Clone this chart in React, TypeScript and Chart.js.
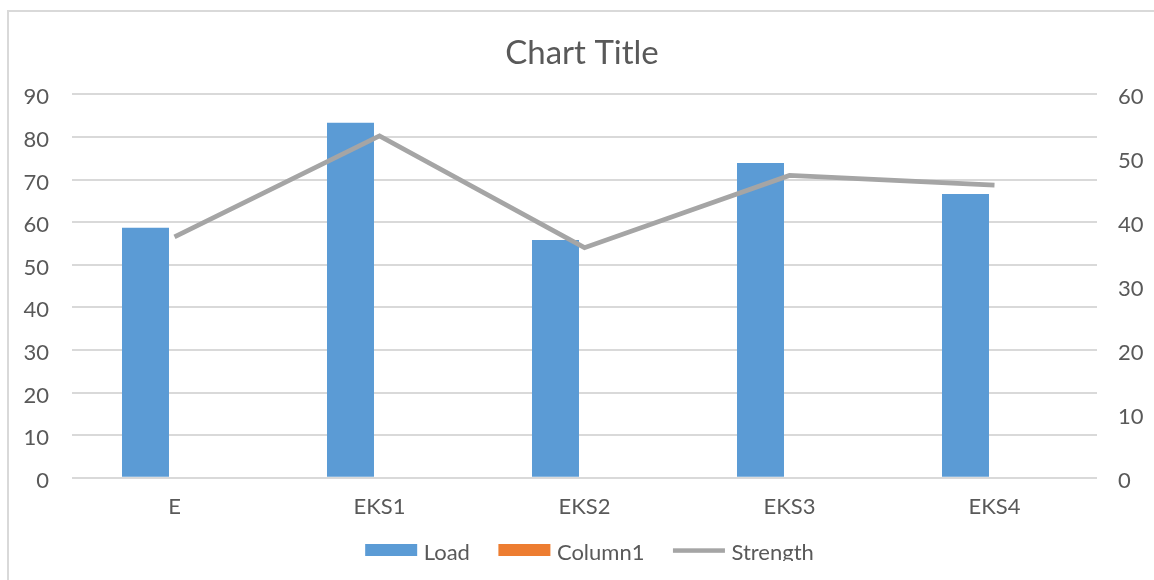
import { useEffect, useRef } from "react";
import { Chart, registerables } from "chart.js";

Chart.register(...registerables);

// ---- data ----
const categories = ["E", "EKS1", "EKS2", "EKS3", "EKS4"];
const loadValues = [58.7, 83.3, 55.8, 73.9, 66.6];
const column1Values: (number | null)[] = [null, null, null, null, null];
const strengthValues = [37.7, 53.5, 36.0, 47.3, 45.8];
const loadAxisRange = [0, 90];
const strengthAxisRange = [0, 60];
const axisStep = 10;
const chartTitle = "Chart Title";

// ---- styles ----
const FONT = "Lato, 'Open Sans', sans-serif";
const TEXT_COLOR = "#595959";
const GRID_COLOR = "#d9d9d9";
const BLUE = "#5b9bd5";
const ORANGE = "#ed7d31";
const GREY = "#a5a5a5";

const titlePlugin = {
  id: "sheetTitle",
  afterDraw(chart: any) {
    const ctx = chart.ctx;
    ctx.save();
    ctx.font = `33px ${FONT}`;
    ctx.fillStyle = TEXT_COLOR;
    ctx.textAlign = "center";
    ctx.textBaseline = "alphabetic";
    ctx.fillText(chartTitle, 582, 64);
    ctx.restore();
  },
};

const legendPlugin = {
  id: "sheetLegend",
  afterDraw(chart: any) {
    const ctx = chart.ctx;
    ctx.save();
    ctx.font = `22px ${FONT}`;
    const boxW = 52;
    const gap = 6.5;
    const spacing = 28.5;
    const items = chart.data.datasets.map((ds: any) => ({
      label: ds.label as string,
      color: (ds.type === "line" ? ds.borderColor : ds.backgroundColor) as string,
      isLine: ds.type === "line",
    }));
    const widths = items.map((it: any) => boxW + gap + ctx.measureText(it.label).width);
    const total = widths.reduce((a: number, b: number) => a + b, 0) + spacing * (items.length - 1);
    let x = 589.5 - total / 2;
    items.forEach((it: any, i: number) => {
      ctx.fillStyle = it.color;
      if (it.isLine) {
        ctx.fillRect(x, 548.3, boxW, 4.5);
      } else {
        ctx.fillRect(x, 544, boxW, 12);
      }
      ctx.fillStyle = TEXT_COLOR;
      ctx.textAlign = "left";
      ctx.textBaseline = "alphabetic";
      ctx.fillText(it.label, x + boxW + gap, 560);
      x += widths[i] + spacing;
    });
    ctx.restore();
  },
};

export default function App() {
  const canvasRef = useRef<HTMLCanvasElement | null>(null);

  useEffect(() => {
    if (!canvasRef.current) return;
    const tickFont = { family: FONT, size: 22 };
    const chart = new Chart(canvasRef.current, {
      type: "bar",
      data: {
        labels: categories,
        datasets: [
          {
            label: "Load",
            data: loadValues,
            backgroundColor: BLUE,
            yAxisID: "y",
            order: 1,
            categoryPercentage: 0.566,
            barPercentage: 0.81,
          },
          {
            label: "Column1",
            data: column1Values,
            backgroundColor: ORANGE,
            yAxisID: "y",
            order: 1,
            categoryPercentage: 0.566,
            barPercentage: 0.81,
          },
          {
            type: "line",
            label: "Strength",
            data: strengthValues,
            borderColor: GREY,
            backgroundColor: GREY,
            borderWidth: 4.7,
            pointRadius: 0,
            tension: 0,
            borderJoinStyle: "miter",
            yAxisID: "y1",
            order: 0,
          } as any,
        ],
      },
      options: {
        animation: false,
        responsive: false,
        maintainAspectRatio: false,
        layout: { padding: { top: 94.3, bottom: 62.3, left: 0, right: 0 } },
        plugins: {
          legend: { display: false },
          title: { display: false },
          tooltip: { enabled: false },
        },
        scales: {
          x: {
            grid: { display: false, drawTicks: false },
            border: { display: false },
            ticks: { color: TEXT_COLOR, font: tickFont, padding: 16, maxRotation: 0 },
            afterFit: (s: any) => {
              s.height = 40;
              s.paddingLeft = 0;
              s.paddingRight = 0;
            },
          },
          y: {
            position: "left",
            min: loadAxisRange[0],
            max: loadAxisRange[1],
            ticks: { stepSize: axisStep, color: TEXT_COLOR, font: tickFont, padding: 23, labelOffset: 3 },
            grid: { color: GRID_COLOR, lineWidth: 2, drawTicks: false },
            border: { display: false },
            afterFit: (s: any) => {
              s.width = 72;
              s.paddingTop = 0;
              s.paddingBottom = 0;
            },
          },
          y1: {
            position: "right",
            min: strengthAxisRange[0],
            max: strengthAxisRange[1],
            ticks: { stepSize: axisStep, color: TEXT_COLOR, font: tickFont, padding: 21, labelOffset: 3 },
            grid: { display: false, drawTicks: false },
            border: { display: false },
            afterFit: (s: any) => {
              s.width = 57;
              s.paddingTop = 0;
              s.paddingBottom = 0;
            },
          },
        },
      } as any,
      plugins: [titlePlugin, legendPlugin],
    });
    return () => chart.destroy();
  }, []);

  return (
    <div
      style={{
        position: "absolute",
        left: 0,
        top: 0,
        width: 1154,
        height: 580,
        overflow: "hidden",
        background: "#ffffff",
      }}
    >
      <div
        style={{
          position: "absolute",
          left: 7,
          top: 10,
          width: 1200,
          height: 620,
          borderLeft: `2px solid ${GRID_COLOR}`,
          borderTop: `2px solid ${GRID_COLOR}`,
        }}
      />
      <div
        style={{
          position: "absolute",
          left: 0,
          top: 0,
          width: 1154,
          height: 561,
          overflow: "hidden",
        }}
      >
        <canvas ref={canvasRef} width={1154} height={580} style={{ display: "block" }} />
      </div>
    </div>
  );
}
